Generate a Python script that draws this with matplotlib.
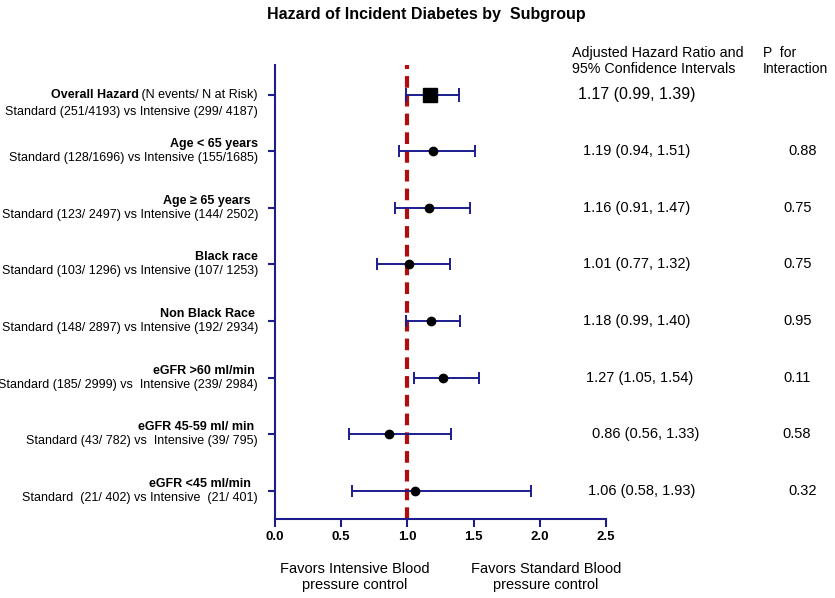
import matplotlib
matplotlib.use("Agg")
import matplotlib.pyplot as plt

plt.rcParams['font.family'] = ['Liberation Sans', 'DejaVu Sans']

# ---- data ----
groups_bold = ["Overall Hazard", "Age < 65 years", "Age \u2265 65 years  ", "Black race",
               "Non Black Race ", "eGFR >60 ml/min ", "eGFR 45-59 ml/ min ", "eGFR <45 ml/min  "]
groups_counts = ["Standard (251/4193) vs Intensive (299/ 4187)",
                 "Standard (128/1696) vs Intensive (155/1685)",
                 "Standard (123/ 2497) vs Intensive (144/ 2502)",
                 "Standard (103/ 1296) vs Intensive (107/ 1253)",
                 "Standard (148/ 2897) vs Intensive (192/ 2934)",
                 "Standard (185/ 2999) vs  Intensive (239/ 2984)",
                 "Standard (43/ 782) vs  Intensive (39/ 795)",
                 "Standard  (21/ 402) vs Intensive  (21/ 401)"]
hr = [1.17, 1.19, 1.16, 1.01, 1.18, 1.27, 0.86, 1.06]
ci_low = [0.99, 0.94, 0.91, 0.77, 0.99, 1.05, 0.56, 0.58]
ci_high = [1.39, 1.51, 1.47, 1.32, 1.40, 1.54, 1.33, 1.93]
p_interaction = ["", "0.88", "0.75", "0.75", "0.95", "0.11", "0.58", "0.32"]
xticks = [0.0, 0.5, 1.0, 1.5, 2.0, 2.5]

# ---- layout ----
W, H = 835, 598
fig = plt.figure(figsize=(W / 100, H / 100), dpi=100)
ax = fig.add_axes([275 / W, 1 - 519 / H, (606 - 275) / W, (519 - 65) / H])

navy = "#1c1c8f"
red = "#b30c0c"
n = len(hr)
rows = list(range(1, n + 1))

ax.set_xlim(0, 2.5)
ax.set_ylim(n + 0.5, 0.475)

# reference line
ax.axvline(1.0, color=red, lw=3, ls=(0, (2.8, 1.7)), zorder=1)

for i, r in enumerate(rows):
    xerr = [[hr[i] - ci_low[i]], [ci_high[i] - hr[i]]]
    if i == 0:
        ax.errorbar(hr[i], r, xerr=xerr, fmt="none", ecolor=navy, elinewidth=1.4,
                    capsize=5, capthick=1.4, zorder=2)
        ax.plot(hr[i], r, marker="s", ms=10, color="black", zorder=3)
    else:
        ax.errorbar(hr[i], r, xerr=xerr, fmt="none", ecolor=navy, elinewidth=1.4,
                    capsize=4, capthick=1.4, zorder=2)
        ax.plot(hr[i], r, marker="o", ms=6, color="black", zorder=3)

for s in ["top", "right"]:
    ax.spines[s].set_visible(False)
for s in ["left", "bottom"]:
    ax.spines[s].set_color(navy)
    ax.spines[s].set_linewidth(1.5)

ax.set_yticks(rows)
ax.set_yticklabels([])
ax.tick_params(axis="y", direction="out", length=5, width=1.5, color=navy)
ax.set_xticks(xticks)
ax.set_xticklabels([f"{t:.1f}" for t in xticks], fontweight="bold", fontsize=9.5)
ax.tick_params(axis="x", direction="out", length=6, width=1.5, color=navy, pad=2.5)

# left labels
fig.canvas.draw()
renderer = fig.canvas.get_renderer()
xr = 258 / W
for i, r in enumerate(rows):
    ydisp = ax.transData.transform((0, r))[1]
    yfig = ydisp / H
    if i == 0:
        t_norm = fig.text(xr, yfig, " (N events/ N at Risk)", ha="right", va="center", fontsize=9)
        bb = t_norm.get_window_extent(renderer)
        fig.text(bb.x0 / W, yfig, groups_bold[i], ha="right", va="center", fontsize=9,
                 fontweight="bold")
        fig.text(xr, yfig - 17 / H, groups_counts[i], ha="right", va="center", fontsize=9)
    else:
        fig.text(xr, yfig + 7 / H, groups_bold[i], ha="right", va="center", fontsize=9,
                 fontweight="bold")
        fig.text(xr, yfig - 7 / H, groups_counts[i], ha="right", va="center", fontsize=9)

# right columns
hr_left_px = [578, 583, 583, 583, 583, 586, 592, 588]
p_left_px = [0, 788, 783, 783, 783, 783, 782, 788]
for i, r in enumerate(rows):
    yfig = ax.transData.transform((0, r))[1] / H
    txt = f"{hr[i]:.2f} ({ci_low[i]:.2f}, {ci_high[i]:.2f})"
    fs = 11.5 if i == 0 else 10.5
    fig.text(hr_left_px[i] / W, yfig, txt, ha="left", va="center", fontsize=fs)
    if p_interaction[i]:
        fig.text(p_left_px[i] / W, yfig, p_interaction[i], ha="left", va="center", fontsize=10.5)

fig.text(572 / W, 1 - 53 / H, "Adjusted Hazard Ratio and", ha="left", va="center", fontsize=10.3)
fig.text(572 / W, 1 - 69 / H, "95% Confidence Intervals", ha="left", va="center", fontsize=10.3)
fig.text(763 / W, 1 - 53 / H, "P  for", ha="left", va="center", fontsize=10)
fig.text(763 / W, 1 - 69 / H, "Interaction", ha="left", va="center", fontsize=10)

# title
fig.text(426 / W, 1 - 15 / H, "Hazard of Incident Diabetes by  Subgroup", ha="center",
         va="center", fontsize=11.5, fontweight="bold")

# bottom annotations
fig.text(355 / W, 1 - 577 / H, "Favors Intensive Blood\npressure control", ha="center",
         va="center", fontsize=10.5, linespacing=1.15)
fig.text(546 / W, 1 - 577 / H, "Favors Standard Blood\npressure control", ha="center",
         va="center", fontsize=10.5, linespacing=1.15)

fig.savefig("out.png", dpi=100)
